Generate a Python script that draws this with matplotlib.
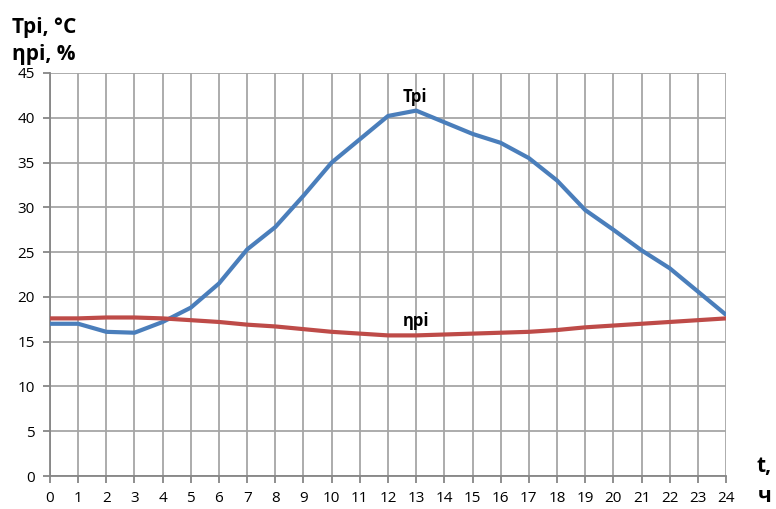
import numpy as np
import matplotlib.pyplot as plt

plt.rcParams['font.family'] = ['Open Sans', 'DejaVu Sans']

hours = np.arange(0, 25)
t_pi = [17.0, 17.0, 16.1, 16.0, 17.2, 18.8, 21.5, 25.3, 27.8, 31.3, 35.0, 37.6, 40.2,
        40.8, 39.5, 38.2, 37.2, 35.5, 33.0, 29.7, 27.5, 25.2, 23.2, 20.6, 18.0]
eta_pi = [17.6, 17.6, 17.7, 17.7, 17.6, 17.4, 17.2, 16.9, 16.7, 16.4, 16.1, 15.9, 15.7,
          15.7, 15.8, 15.9, 16.0, 16.1, 16.3, 16.6, 16.8, 17.0, 17.2, 17.4, 17.6]

fig = plt.figure(figsize=(7.76, 5.09), dpi=100)
ax = fig.add_axes([0.0644, 0.0648, 0.8712, 0.7918])

ax.plot(hours, t_pi, color='#4a7ebb', lw=3, solid_capstyle='round', solid_joinstyle='round', zorder=3)
ax.plot(hours, eta_pi, color='#be4b48', lw=3, solid_capstyle='round', solid_joinstyle='round', zorder=3)

ax.set_xlim(0, 24)
ax.set_ylim(0, 45)
ax.set_xticks(hours)
ax.set_yticks(np.arange(0, 46, 5))
ax.grid(True, color='#a6a6a6', lw=1.3)
ax.set_axisbelow(True)
for s in ['top', 'right']:
    ax.spines[s].set_visible(False)
for s in ['left', 'bottom']:
    ax.spines[s].set_color('#868686')
    ax.spines[s].set_linewidth(1.3)
ax.tick_params(length=5, width=1.3, color='#868686', labelsize=11, pad=6)

ax.text(12.95, 42.3, 'Tpi', ha='center', va='center', fontsize=12, fontweight='bold')
ax.text(13.0, 17.3, 'ηpi', ha='center', va='center', fontsize=12, fontweight='bold')

fig.text(0.016, 0.945, 'Tpi, °C', ha='left', va='center', fontsize=15, fontweight='bold')
fig.text(0.016, 0.892, 'ηpi, %', ha='left', va='center', fontsize=15, fontweight='bold')
fig.text(0.985, 0.083, 't,', ha='center', va='center', fontsize=15, fontweight='bold')
fig.text(0.985, 0.024, 'ч', ha='center', va='center', fontsize=15, fontweight='bold')

fig.savefig('out.png', dpi=100)
